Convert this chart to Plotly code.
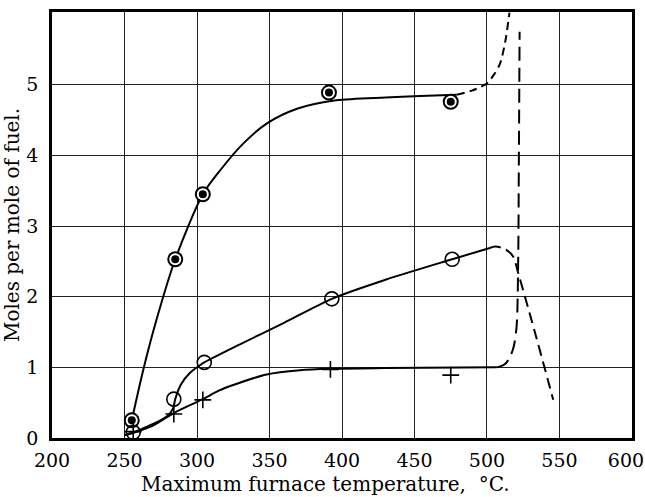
import plotly.graph_objects as go

# Measured points (temperature in deg C, moles per mole of fuel)
solid_dot_x = [255, 285, 304, 391, 475]
solid_dot_y = [0.25, 2.53, 3.45, 4.89, 4.76]
open_circle_x = [256, 284, 305, 393, 476]
open_circle_y = [0.08, 0.55, 1.07, 1.97, 2.53]
plus_x = [256, 284, 304, 392, 475]
plus_y = [0.09, 0.34, 0.54, 0.97, 0.89]

# Hand-fitted curves through the points
curve_a_x = [255, 263, 272, 285, 304, 316, 332, 348, 369, 396, 430, 454, 479]
curve_a_y = [0.25, 0.97, 1.67, 2.53, 3.45, 3.79, 4.17, 4.45, 4.66, 4.78, 4.82, 4.84, 4.86]
curve_a_ext_x = [479, 490, 500, 505, 509, 512.5, 515.5]
curve_a_ext_y = [4.86, 4.92, 5.02, 5.15, 5.3, 5.6, 6.02]

curve_b_x = [252, 262, 272, 280, 283.5, 285, 289, 295, 302, 305, 330, 360, 393, 430, 476, 502]
curve_b_y = [0.05, 0.13, 0.22, 0.32, 0.42, 0.55, 0.76, 0.92, 1.03, 1.07, 1.33, 1.63, 1.97, 2.24, 2.53, 2.69]
curve_b_ext_x = [502, 505.5, 512, 518, 521.6, 533, 545.7]
curve_b_ext_y = [2.69, 2.71, 2.68, 2.57, 2.33, 1.5, 0.54]

curve_c_x = [250, 260, 270, 283.7, 304, 315, 325, 348, 371, 392, 430, 506.7]
curve_c_y = [0.04, 0.1, 0.18, 0.35, 0.55, 0.67, 0.75, 0.9, 0.96, 0.98, 0.99, 1.0]
curve_c_ext_x = [506.7, 512, 515.5, 518.5, 520.5, 521.5, 522, 522.5]
curve_c_ext_y = [1.0, 1.04, 1.13, 1.3, 1.6, 2.5, 4.0, 5.75]

x_ticks = [200, 250, 300, 350, 400, 450, 500, 550, 600]
# last label padded so it stays inside the page at the right border
x_tick_text = ["200", "250", "300", "350", "400", "450", "500", "550", "600\u00a0\u00a0"]
y_ticks = [0, 1, 2, 3, 4, 5]

INK = "black"
FONT = dict(family="DejaVu Serif", size=20, color=INK)
TICK_FONT = dict(family="DejaVu Serif", size=19, color=INK)

fig = go.Figure()


def add_line(x, y, dash="solid", width=2):
    fig.add_trace(go.Scatter(
        x=x, y=y, mode="lines",
        line=dict(color=INK, width=width, dash=dash, shape="spline", smoothing=0.8),
        hoverinfo="skip", showlegend=False,
    ))


add_line(curve_a_x, curve_a_y)
add_line(curve_a_ext_x, curve_a_ext_y, dash="8px,5px")
add_line(curve_b_x, curve_b_y)
add_line(curve_b_ext_x, curve_b_ext_y, dash="11px,6px")
add_line(curve_c_x, curve_c_y)
add_line(curve_c_ext_x, curve_c_ext_y, dash="14px,7px")

# Ringed dots: open ring plus solid centre
fig.add_trace(go.Scatter(
    x=solid_dot_x, y=solid_dot_y, mode="markers",
    marker=dict(symbol="circle", size=14, color="white", line=dict(color=INK, width=2)),
    showlegend=False,
))
fig.add_trace(go.Scatter(
    x=solid_dot_x, y=solid_dot_y, mode="markers",
    marker=dict(symbol="circle", size=8, color=INK, line=dict(width=0)),
    showlegend=False,
))
fig.add_trace(go.Scatter(
    x=open_circle_x, y=open_circle_y, mode="markers",
    marker=dict(symbol="circle-open", size=14, color=INK, line=dict(color=INK, width=1.6)),
    showlegend=False,
))
fig.add_trace(go.Scatter(
    x=plus_x, y=plus_y, mode="markers",
    marker=dict(symbol="cross-thin-open", size=12, color=INK, line=dict(color=INK, width=1.6)),
    showlegend=False,
))

axis_common = dict(
    showline=True, mirror=True, linecolor=INK, linewidth=2.5,
    showgrid=True, gridcolor="#222", gridwidth=1.3,
    zeroline=False, ticks="", tickfont=TICK_FONT, ticklabeloverflow="allow",
    automargin=False,
)

fig.update_layout(
    width=645, height=497,
    margin=dict(l=52, r=13, t=12, b=59, autoexpand=False),
    paper_bgcolor="white", plot_bgcolor="white",
    font=FONT,
    xaxis=dict(
        range=[199.99, 600.01], tickvals=x_ticks, ticktext=x_tick_text,
        ticklabelstandoff=3,
        **axis_common,
    ),
    yaxis=dict(
        range=[0, 6.03], tickvals=y_ticks, ticklabelstandoff=7,
        title=dict(text="Moles per mole of fuel.", font=FONT, standoff=6),
        **axis_common,
    ),
    annotations=[dict(
        text="Maximum furnace temperature,\u00a0 °C.",
        xref="paper", yref="paper", x=0.4707, y=-0.108,
        xanchor="center", yanchor="middle", showarrow=False, font=FONT,
    )],
)

fig.write_html("out.html")
